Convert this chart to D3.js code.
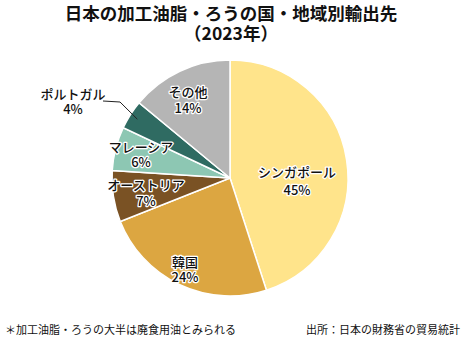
<!DOCTYPE html>
<html><head><meta charset="utf-8">
<script src="https://cdn.jsdelivr.net/npm/d3@7"></script>
<style>
html,body{margin:0;padding:0;background:#fff;}
svg{display:block;font-family:"Noto Sans CJK JP","Noto Sans",sans-serif;}
</style></head>
<body>
<svg id="c" width="465" height="340"></svg>
<script>
const categories = ["シンガポール","韓国","オーストリア","マレーシア","ポルトガル","その他"];
const values = [45,24,7,6,4,14];
const colors = ["#FFE48B","#DCA641","#7A5224","#8DC7B3","#2F6B62","#B5B5B5"];
const titleLines = ["日本の加工油脂・ろうの国・地域別輸出先","（2023年）"];
const footLeft = "＊加工油脂・ろうの大半は廃食用油とみられる";
const footRight = "出所：日本の財務省の貿易統計";

const svg = d3.select("#c");
const cx = 230, cy = 178, r = 118;

svg.selectAll("text.title").data(titleLines).join("text")
  .attr("class","title")
  .attr("x",231).attr("y",(d,i)=>20+i*20)
  .attr("text-anchor","middle")
  .attr("font-size",17.5).attr("font-weight",700).attr("fill","#111")
  .text(d=>d);

const pie = d3.pie().sort(null).value(d=>d.v);
const data = pie(categories.map((c,i)=>({c,v:values[i],col:colors[i]})));
const arc = d3.arc().innerRadius(0).outerRadius(r);
const g = svg.append("g").attr("transform",`translate(${cx},${cy})`);
g.selectAll("path").data(data).join("path")
  .attr("d",arc).attr("fill",d=>d.data.col)
  .attr("stroke","#fff").attr("stroke-width",1.5);

// label layout offsets from pie centre: [dx, line1 centre dy, line spacing]
const layout = [[67,-6,18],[-45,84,15],[-84,7,15.5],[-89,-31,15],[-157,-84,15],[-42,-86,16]];
const lab = svg.append("g");
data.forEach((d,i)=>{
  const [dx,dy,sp] = layout[i];
  const x = cx+dx, y = cy+dy;
  if(i===4){
    const mid=(d.startAngle+d.endAngle)/2;
    const pr = r*0.93;
    const px = cx + Math.sin(mid)*pr, py = cy - Math.cos(mid)*pr;
    svg.append("path")
      .attr("d",`M${x+30},${y+7}L${x+47},${y+8}L${px},${py}`)
      .attr("fill","none").attr("stroke","#222").attr("stroke-width",1);
  }
  const t = lab.append("text")
    .attr("text-anchor","middle")
    .attr("font-size",13).attr("font-weight",500)
    .attr("fill","#111")
    .attr("stroke", i===4 ? "none" : "#fff").attr("stroke-width",2.5)
    .attr("stroke-linejoin","round").attr("paint-order","stroke");
  t.append("tspan").attr("x",x).attr("y",y+5).text(d.data.c);
  t.append("tspan").attr("x",x).attr("y",y+5+sp).text(d.data.v+"%");
});

svg.append("text").attr("x",5).attr("y",334).attr("font-size",11).attr("fill","#111").text(footLeft);
svg.append("text").attr("x",460).attr("y",334).attr("text-anchor","end").attr("font-size",11).attr("fill","#111").text(footRight);
</script>
</body></html>
